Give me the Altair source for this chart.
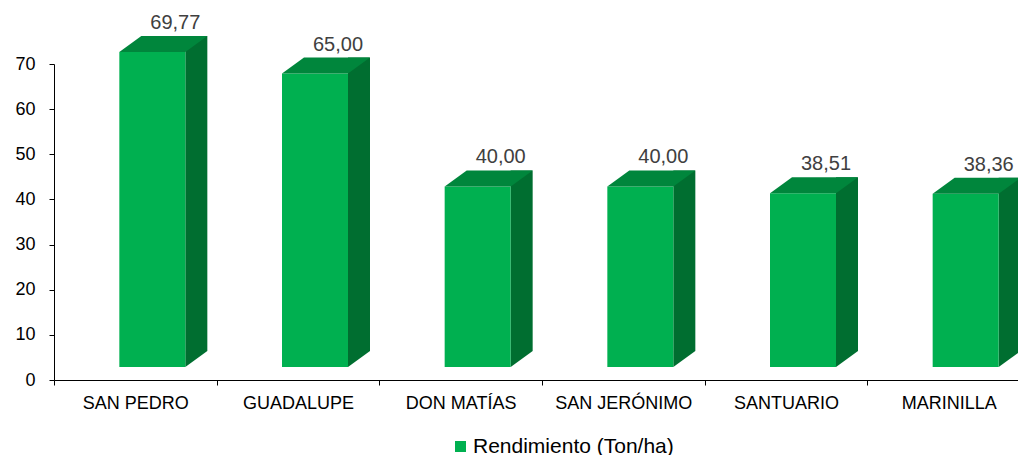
import altair as alt
import pandas as pd

# ---- data ----
categorias = ["SAN PEDRO", "GUADALUPE", "DON MATÍAS", "SAN JERÓNIMO", "SANTUARIO", "MARINILLA"]
rendimiento = [69.77, 65.00, 40.00, 40.00, 38.51, 38.36]
serie = "Rendimiento (Ton/ha)"
y_ticks = [0, 10, 20, 30, 40, 50, 60, 70]

df = pd.DataFrame({"municipio": categorias, "valor": rendimiento, "serie": [serie] * len(categorias)})

# ---- styles ----
FRONT = "#00B050"
TOP = "#00863C"
SIDE = "#006E30"
FONT = "Liberation Sans"
TOP_SHAPE = "M-1,0.1818L0.5,0.1818L1,-0.1818L-0.5,-0.1818Z"   # 88x16 parallelogram
TRI_SHAPE = "M-1,-0.7273L-1,0.7273L1,-0.7273Z"                  # 22x16 triangle

x_enc = alt.X(
    "municipio:N",
    sort=categorias,
    scale=alt.Scale(domain=categorias, range=[0, 976], paddingInner=0, paddingOuter=0),
    axis=alt.Axis(
        title=None, labelAngle=0, labelFont=FONT, labelFontSize=18, labelColor="#000000",
        labelPadding=9, tickBand="extent", tickSize=5, tickColor="#000000",
        domainColor="#000000", labelLimit=250, grid=False,
    ),
)
y_enc = alt.Y(
    "valor:Q",
    scale=alt.Scale(domain=[0, 70], nice=False, zero=True),
    axis=alt.Axis(
        title=None, values=y_ticks, labelFont=FONT, labelFontSize=18, labelColor="#000000",
        labelPadding=14, tickSize=5, tickColor="#000000", domainColor="#000000", grid=False,
    ),
)

base = alt.Chart(df).encode(x=x_enc, y=y_enc)

side = base.mark_bar(width=22, xOffset=61, yOffset=-29, y2Offset=-29, color=SIDE).encode(
    y2=alt.datum(0)
)
side_tri = base.mark_point(
    shape=TRI_SHAPE, size=484, filled=True, opacity=1, color=SIDE, xOffset=61, yOffset=-21
).encode(y=alt.datum(0))

front = base.mark_bar(width=66, xOffset=17, yOffset=-13, y2Offset=-13).encode(
    y2=alt.datum(0),
    color=alt.Color(
        "serie:N",
        scale=alt.Scale(range=[FRONT]),
        legend=alt.Legend(
            title=None, orient="none", legendX=396, legendY=372, symbolType="square",
            symbolSize=121, symbolStrokeWidth=0, labelFont=FONT, labelFontSize=21,
            labelColor="#000000", labelOffset=2, padding=0, labelLimit=400,
        ),
    ),
)

top = base.mark_point(
    shape=TOP_SHAPE, size=7744, filled=True, opacity=1, color=TOP, xOffset=28, yOffset=-21
)

labels = base.mark_text(
    dx=40, dy=-36, baseline="alphabetic", align="center", font=FONT, fontSize=20, color="#404040"
).encode(text="etiqueta:N").transform_calculate(
    etiqueta="replace(format(datum.valor, '.2f'), '.', ',')"
)

chart = (
    alt.layer(side, side_tri, front, top, labels)
    .properties(
        width=964,
        height=316,
        padding={"left": 46, "top": 56, "right": 0, "bottom": 75},
        autosize=alt.AutoSizeParams(type="none"),
        background="#ffffff",
    )
    .configure_view(stroke=None)
)

chart.save("out.html", embed_options={"renderer": "svg", "actions": False})
